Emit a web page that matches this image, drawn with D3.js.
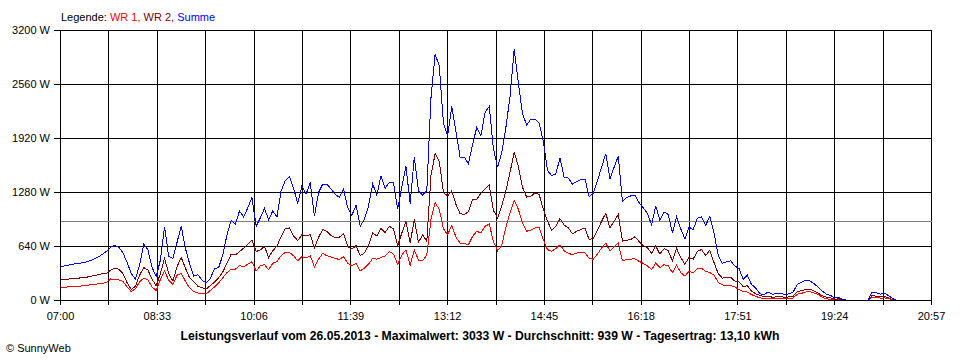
<!DOCTYPE html>
<html>
<head>
<meta charset="utf-8">
<script src="https://cdn.jsdelivr.net/npm/d3@7"></script>
<style>
  html, body { margin: 0; padding: 0; background: #fff; }
  svg { display: block; }
</style>
</head>
<body>
<svg id="chart" width="960" height="360"></svg>
<script>
// ---- data ----
const startMinute = 420;      // 07:00
const endMinute = 1257;       // 20:57
const stepMinutes = 4;
const gridStepMinutes = 46.5;
const xTickLabels = ["07:00","08:33","10:06","11:39","13:12","14:45","16:18","17:51","19:24","20:57"];
const yTickValues = [0, 640, 1280, 1920, 2560, 3200];
const yTickLabels = ["0 W","640 W","1280 W","1920 W","2560 W","3200 W"];
const averageW = 939;
const titleText = "Leistungsverlauf vom 26.05.2013 - Maximalwert: 3033 W - Durchschnitt: 939 W - Tagesertrag: 13,10 kWh";
const creditText = "\u00A9 SunnyWeb";

const summe = [
  400,410,420,430,440,445,455,470,490,515,
  545,580,630,655,630,565,450,320,255,420,
  670,600,390,285,480,870,520,500,690,880,
  620,440,290,305,240,210,260,380,390,540,
  780,950,900,1060,990,1100,1220,880,980,1090,
  960,1060,990,1300,1420,1470,1330,1150,1360,1260,
  1400,1000,1280,1380,1380,1320,1260,1220,1320,1100,
  1010,1130,880,960,1120,1380,1250,1480,1330,1400,
  1400,1080,1350,1590,1150,1700,1300,1250,1300,2400,
  2920,2780,2100,1950,2300,2000,1700,1700,1620,1850,
  2050,1950,2230,2300,1800,1580,1750,2050,2420,2980,
  2580,2210,2080,2150,2150,2100,1880,1540,1480,1500,
  1690,1460,1450,1380,1410,1430,1440,1230,1270,1420,
  1580,1740,1440,1580,1710,1170,1220,1240,1250,1160,
  1100,1030,900,1120,950,1050,1020,800,990,850,
  730,870,840,975,990,890,1000,800,540,440,
  460,470,410,380,250,300,190,150,80,70,
  100,75,80,85,70,80,100,190,215,240,
  235,200,160,110,75,60,30,40,10,4,
  3,3,5,5,5,100,90,75,85,55,
  20,0
];
const wr2 = [
  246,250,255,258,262,270,275,282,295,305,
  318,320,360,382,370,320,210,130,170,300,
  390,360,250,175,320,500,320,230,400,510,
  385,270,222,170,150,137,175,220,270,340,
  440,550,540,580,620,670,715,580,600,640,
  510,590,645,760,850,860,765,710,780,765,
  780,620,750,840,820,770,745,750,790,640,
  610,650,530,565,650,800,765,855,805,880,
  850,650,800,935,680,960,690,780,700,1480,
  1740,1650,1280,1240,1300,1140,1030,1020,1050,1200,
  1200,1270,1320,1370,1070,975,1120,1300,1520,1760,
  1590,1340,1225,1235,1275,1255,1080,940,830,880,
  970,895,860,790,820,840,860,720,740,830,
  940,1035,860,940,1020,705,715,722,755,700,
  650,625,560,645,550,615,590,470,615,510,
  430,510,490,585,603,535,595,450,320,265,
  275,275,230,220,165,175,110,80,60,45,
  48,40,42,45,38,42,50,105,115,130,
  135,115,90,55,40,32,15,20,5,0,
  0,0,0,0,0,60,50,42,48,30,
  10,0
];
const wr1 = [
  155,158,162,165,167,172,178,185,190,198,
  205,210,255,252,246,225,160,105,140,220,
  265,245,160,118,250,350,240,190,300,320,
  230,150,105,90,78,78,120,160,210,270,
  330,370,370,415,400,430,460,350,410,425,
  365,440,462,530,570,570,530,470,520,505,
  530,400,490,560,530,515,500,485,520,440,
  410,440,350,385,430,500,490,510,530,580,
  550,430,540,600,420,600,480,470,540,960,
  1160,1080,850,780,890,750,680,675,663,760,
  820,800,880,905,700,590,650,870,1040,1190,
  1080,920,821,835,860,860,720,603,585,615,
  660,590,560,543,563,575,565,500,490,550,
  623,680,585,640,680,470,484,490,495,464,
  440,410,365,444,390,425,410,330,420,330,
  290,345,330,375,384,345,330,300,215,185,
  180,180,160,130,105,100,70,50,30,28,
  25,22,25,27,22,25,30,75,85,100,
  105,90,70,40,20,15,10,12,3,0,
  0,0,0,0,0,40,35,28,30,20,
  8,0
];

const seriesList = [
  { name: "WR 1", values: wr1, color: "#ff0000" },
  { name: "WR 2", values: wr2, color: "#800000" },
  { name: "Summe", values: summe, color: "#0000ff" }
];

// ---- chart ----
const FONT = "'Liberation Sans', Arial, sans-serif";
const svg = d3.select("#chart");
const plotLeft = 60, plotRight = 931, plotTop = 30, plotBottom = 300;

const x = d3.scaleLinear().domain([startMinute, endMinute]).range([plotLeft, plotRight]);
const y = d3.scaleLinear().domain([0, 3200]).range([plotBottom, plotTop]);

const gridMinutes = d3.range(0, xTickLabels.length * 2 - 1).map(i => startMinute + i * gridStepMinutes);

// vertical gridlines
svg.append("g")
  .attr("transform", `translate(0,${plotBottom})`)
  .call(d3.axisBottom(x).tickValues(gridMinutes).tickSize(-(plotBottom - plotTop)).tickSizeOuter(0).tickFormat(""))
  .call(g => g.select(".domain").remove())
  .call(g => g.selectAll("line").attr("stroke", "#000").attr("shape-rendering", "crispEdges"));

// horizontal gridlines
svg.append("g")
  .attr("transform", `translate(${plotLeft},0)`)
  .call(d3.axisLeft(y).tickValues(yTickValues).tickSize(-(plotRight - plotLeft)).tickSizeOuter(0).tickFormat(""))
  .call(g => g.select(".domain").remove())
  .call(g => g.selectAll("line").attr("stroke", "#000").attr("shape-rendering", "crispEdges"));

// average line
svg.append("line")
  .attr("x1", x(startMinute) + 0.5).attr("x2", x(endMinute) + 0.5)
  .attr("y1", Math.round(y(averageW)) + 0.5).attr("y2", Math.round(y(averageW)) + 0.5)
  .attr("stroke", "#808080").attr("shape-rendering", "crispEdges");

// data lines
const line = d3.line()
  .x((d, i) => x(startMinute + i * stepMinutes))
  .y(d => y(d));
const lines = svg.append("g").attr("transform", "translate(0.5,0.5)");
seriesList.forEach(s => {
  lines.append("path")
    .attr("d", line(s.values))
    .attr("fill", "none")
    .attr("stroke", s.color)
    .attr("stroke-width", 1)
    .attr("shape-rendering", "crispEdges");
});

// bottom axis with ticks + labels
svg.append("g")
  .attr("transform", `translate(0,${plotBottom})`)
  .call(d3.axisBottom(x).tickValues(gridMinutes).tickSize(5).tickSizeOuter(0).tickPadding(7)
    .tickFormat((d, i) => i % 2 === 0 ? xTickLabels[i / 2] : ""))
  .call(g => g.select(".domain").attr("stroke", "#000").attr("shape-rendering", "crispEdges"))
  .call(g => g.selectAll("line").attr("stroke", "#000").attr("shape-rendering", "crispEdges"))
  .call(g => g.selectAll("text").attr("fill", "#000").attr("font-size", 11).attr("font-family", FONT));

// left axis ticks + labels
svg.append("g")
  .attr("transform", `translate(${plotLeft},0)`)
  .call(d3.axisLeft(y).tickValues(yTickValues).tickSize(6).tickSizeOuter(0).tickPadding(4)
    .tickFormat((d, i) => yTickLabels[i]))
  .call(g => g.select(".domain").attr("stroke", "#000").attr("shape-rendering", "crispEdges"))
  .call(g => g.selectAll("line").attr("stroke", "#000").attr("shape-rendering", "crispEdges"))
  .call(g => g.selectAll("text").attr("fill", "#000").attr("font-size", 11).attr("font-family", FONT));

// legend
const legend = svg.append("text")
  .attr("x", 61).attr("y", 21)
  .attr("font-size", 11).attr("font-family", FONT);
legend.append("tspan").attr("fill", "#000").text("Legende: ");
seriesList.forEach((s, i) => {
  legend.append("tspan").attr("fill", s.color).text(s.name + (i < seriesList.length - 1 ? ", " : ""));
});

// title
svg.append("text")
  .attr("x", 480).attr("y", 340)
  .attr("text-anchor", "middle")
  .attr("font-size", 12).attr("font-weight", "bold").attr("font-family", FONT)
  .attr("textLength", 599).attr("lengthAdjust", "spacingAndGlyphs")
  .attr("fill", "#000")
  .text(titleText);

// credit
svg.append("text")
  .attr("x", 6).attr("y", 352)
  .attr("font-size", 11).attr("font-family", FONT)
  .attr("fill", "#000")
  .text(creditText);
</script>
</body>
</html>
